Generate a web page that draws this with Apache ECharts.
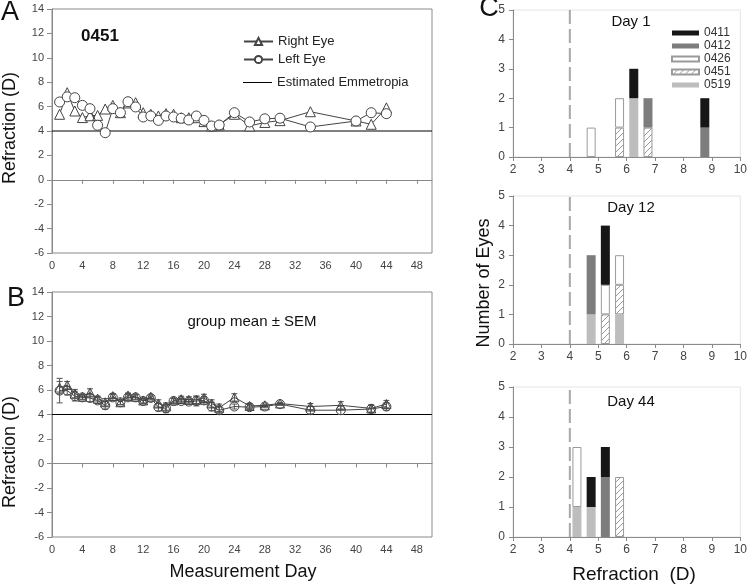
<!DOCTYPE html>
<html><head><meta charset="utf-8">
<script src="https://cdn.jsdelivr.net/npm/echarts@6/dist/echarts.min.js"></script>
<style>html,body{margin:0;padding:0;background:#fff}#c{width:750px;height:586px}</style>
</head><body><div id="c"></div>
<script>
// ---------- Panel A: animal 0451 ----------
const daysA = [1,2,3,4,5,6,7,8,9,10,11,12,13,14,15,16,17,18,19,20,21,22,24,26,28,30,34,40,42,44];
const rightEyeA = [5.37,7.14,5.64,5.1,5.25,5.28,5.8,6.1,5.5,6.3,6.32,5.5,5.37,5.23,5.42,5.37,5.09,5.09,5.09,4.77,4.41,4.5,5.37,4.41,4.7,4.85,5.58,4.82,4.55,5.9];
const leftEyeA  = [6.38,6.8,6.73,6.1,5.83,4.47,3.86,5.83,5.5,6.4,5.97,5.15,5.23,4.87,5.23,5.15,5.04,4.9,5.23,4.87,4.41,4.49,5.5,4.74,5.0,5.05,4.33,4.82,5.5,5.42];
const emmetropia = 4;

// ---------- Panel B: group mean ± SEM ----------
const daysB = [1,2,3,4,5,6,7,8,9,10,11,12,13,14,15,16,17,18,19,20,21,22,24,26,28,30,34,38,42,44];
const rightMeanB = [6.2,6.4,5.7,5.45,5.8,5.3,5.0,5.5,5.0,5.55,5.45,5.15,5.45,4.9,4.65,5.15,5.25,5.2,5.2,5.35,4.9,4.55,5.4,4.7,4.75,4.9,4.65,4.75,4.5,4.85];
const leftMeanB  = [5.95,5.95,5.5,5.4,5.35,5.15,4.75,5.4,5.0,5.4,5.4,5.1,5.35,4.6,4.5,5.1,5.1,5.05,5.1,5.15,4.65,4.35,4.65,4.6,4.65,4.85,4.35,4.35,4.45,4.65];
const rightSemB  = [0.5,0.3,0.35,0.2,0.3,0.2,0.3,0.2,0.2,0.2,0.2,0.2,0.15,0.3,0.3,0.2,0.25,0.25,0.3,0.3,0.3,0.3,0.3,0.2,0.1,0.1,0.25,0.3,0.3,0.3];
const leftSemB   = [1.0,0.35,0.4,0.2,0.3,0.25,0.3,0.25,0.2,0.25,0.2,0.2,0.15,0.3,0.35,0.2,0.2,0.2,0.4,0.3,0.35,0.3,0.2,0.2,0.1,0.1,0.3,0.35,0.3,0.3];

// ---------- Panel C: histograms (0.5 D bins) ----------
const animals = ['0411','0412','0426','0451','0519'];
const binEdgesCenters = ['2.25','2.75','3.25','3.75','4.25','4.75','5.25','5.75','6.25','6.75','7.25','7.75','8.25','8.75','9.25','9.75'];
const binCenters = [4.25,4.75,5.25,5.75,6.25,6.75,8.75];
const day1_0411 = [0,0,0,0,1,0,1];
const day1_0412 = [0,0,0,0,0,1,1];
const day1_0426 = [0,1,0,1,0,0,0];
const day1_0451 = [0,0,0,1,0,1,0];
const day1_0519 = [0,0,0,0,2,0,0];
const day12_0411 = [0,0,2,0,0,0,0];
const day12_0412 = [0,2,0,0,0,0,0];
const day12_0426 = [0,0,1,1,0,0,0];
const day12_0451 = [0,0,1,1,0,0,0];
const day12_0519 = [0,1,0,1,0,0,0];
const day44_0411 = [0,1,1,0,0,0,0];
const day44_0412 = [0,0,2,0,0,0,0];
const day44_0426 = [2,0,0,0,0,0,0];
const day44_0451 = [0,0,0,2,0,0,0];
const day44_0519 = [1,1,0,0,0,0,0];
const dayTitles = ['Day 1','Day 12','Day 44'];
const xTicksA = [0,4,8,12,16,20,24,28,32,36,40,44,48];

const FONT = '"Liberation Sans", Arial, sans-serif';
const AX = '#8a8a8a', LBL = '#444', LINE = '#444';

function hatchCanvas(){
  const c = document.createElement('canvas'); c.width = 6; c.height = 6;
  const g = c.getContext('2d');
  g.fillStyle = '#fff'; g.fillRect(0,0,6,6);
  g.strokeStyle = '#8c8c8c'; g.lineWidth = 0.9;
  g.beginPath();
  g.moveTo(0,6); g.lineTo(6,0);
  g.moveTo(-1,1); g.lineTo(1,-1);
  g.moveTo(5,7); g.lineTo(7,5);
  g.stroke();
  return c;
}
const hatch = {image: hatchCanvas(), repeat: 'repeat'};
const animalStyle = {
  '0411': {color:'#161616', borderWidth:0},
  '0412': {color:'#7d7d7d', borderWidth:0},
  '0426': {color:'#ffffff', borderColor:'#9a9a9a', borderWidth:1},
  '0451': {color:hatch, borderColor:'#9a9a9a', borderWidth:1},
  '0519': {color:'#bdbdbd', borderWidth:0}
};
const dayCounts = [
  {'0411':day1_0411,'0412':day1_0412,'0426':day1_0426,'0451':day1_0451,'0519':day1_0519},
  {'0411':day12_0411,'0412':day12_0412,'0426':day12_0426,'0451':day12_0451,'0519':day12_0519},
  {'0411':day44_0411,'0412':day44_0412,'0426':day44_0426,'0451':day44_0451,'0519':day44_0519}
];

const gridsC = [
  {left:513, top:10, width:232, height:147},
  {left:513, top:196, width:232, height:148},
  {left:513, top:387, width:232, height:150}
];
const grids = [
  {left:52, top:9, width:380, height:244, show:true, borderColor:AX, borderWidth:1},
  {left:52, top:292, width:380, height:245, show:true, borderColor:AX, borderWidth:1}
].concat(gridsC.map(g => Object.assign({show:true, borderColor:'#e4e4e4', borderWidth:1}, g)));

const xAxes = [], yAxes = [];
for (let i = 0; i < 2; i++) {
  xAxes.push({type:'value', gridIndex:i, min:0, max:50, interval:4,
    axisLine:{show:true, lineStyle:{color:AX}},
    axisTick:{show:true, length:4, lineStyle:{color:AX}, customValues:xTicksA},
    axisLabel:{fontSize:11, color:LBL, fontFamily:FONT, margin:7, customValues:xTicksA},
    splitLine:{show:false}});
  yAxes.push({type:'value', gridIndex:i, min:-6, max:14, interval:2,
    axisLine:{show:true, lineStyle:{color:AX}},
    axisTick:{show:true, length:5, lineStyle:{color:AX}},
    axisLabel:{fontSize:11, color:LBL, fontFamily:FONT, margin:8},
    splitLine:{show:false}});
}
for (let i = 0; i < 3; i++) {
  xAxes.push({type:'value', gridIndex:2+i, min:2, max:10, interval:1,
    axisLine:{show:true, lineStyle:{color:AX}},
    axisTick:{show:true, length:4, lineStyle:{color:AX}},
    axisLabel:{fontSize:12, color:LBL, fontFamily:FONT, margin:7},
    splitLine:{show:false}});
  yAxes.push({type:'value', gridIndex:2+i, min:0, max:5, interval:1,
    axisLine:{show:true, lineStyle:{color:AX}},
    axisTick:{show:true, length:4, lineStyle:{color:AX}},
    axisLabel:{fontSize:12, color:LBL, fontFamily:FONT, margin:8},
    splitLine:{show:false}});
}
// hidden bin (category) axes overlaying the C value axes: indices 5,6,7
for (let i = 0; i < 3; i++) {
  xAxes.push({type:'category', gridIndex:2+i, data:binEdgesCenters, boundaryGap:true, show:false});
}

const series = [];
// Panel A
series.push({name:'Estimated Emmetropia', type:'line', xAxisIndex:0, yAxisIndex:0,
  data:[[0,emmetropia],[50,emmetropia]], symbol:'none', lineStyle:{color:'#000', width:1},
  itemStyle:{color:'#000'}, z:1});
series.push({name:'Right Eye', type:'line', xAxisIndex:0, yAxisIndex:0,
  data: daysA.map((d,i)=>[d,rightEyeA[i]]), symbol:'triangle', symbolSize:10,
  lineStyle:{color:LINE, width:1}, itemStyle:{color:'#fff', borderColor:LINE, borderWidth:1}, z:3});
series.push({name:'Left Eye', type:'line', xAxisIndex:0, yAxisIndex:0,
  data: daysA.map((d,i)=>[d,leftEyeA[i]]), symbol:'circle', symbolSize:10,
  lineStyle:{color:LINE, width:1}, itemStyle:{color:'#fff', borderColor:LINE, borderWidth:1}, z:4});
// Panel B
series.push({name:'emmB', type:'line', xAxisIndex:1, yAxisIndex:1,
  data:[[0,emmetropia],[50,emmetropia]], symbol:'none', lineStyle:{color:'#000', width:1}, z:1});
function errRender(params, api){
  const x = api.value(0), lo = api.value(1), hi = api.value(2);
  const p1 = api.coord([x, hi]), p2 = api.coord([x, lo]);
  const w = 3, st = {stroke:'#555', lineWidth:1};
  return {type:'group', children:[
    {type:'line', shape:{x1:p1[0], y1:p1[1], x2:p2[0], y2:p2[1]}, style:st},
    {type:'line', shape:{x1:p1[0]-w, y1:p1[1], x2:p1[0]+w, y2:p1[1]}, style:st},
    {type:'line', shape:{x1:p2[0]-w, y1:p2[1], x2:p2[0]+w, y2:p2[1]}, style:st}
  ]};
}
series.push({name:'errR', type:'custom', xAxisIndex:1, yAxisIndex:1, renderItem:errRender,
  data: daysB.map((d,i)=>[d, rightMeanB[i]-rightSemB[i], rightMeanB[i]+rightSemB[i]]), z:2});
series.push({name:'errL', type:'custom', xAxisIndex:1, yAxisIndex:1, renderItem:errRender,
  data: daysB.map((d,i)=>[d, leftMeanB[i]-leftSemB[i], leftMeanB[i]+leftSemB[i]]), z:2});
series.push({name:'Right Eye mean', type:'line', xAxisIndex:1, yAxisIndex:1,
  data: daysB.map((d,i)=>[d,rightMeanB[i]]), symbol:'triangle', symbolSize:9,
  lineStyle:{color:LINE, width:1}, itemStyle:{color:'rgba(255,255,255,0)', borderColor:LINE, borderWidth:1}, z:3});
series.push({name:'Left Eye mean', type:'line', xAxisIndex:1, yAxisIndex:1,
  data: daysB.map((d,i)=>[d,leftMeanB[i]]), symbol:'circle', symbolSize:9,
  lineStyle:{color:LINE, width:1}, itemStyle:{color:'rgba(255,255,255,0)', borderColor:LINE, borderWidth:1}, z:4});
// Panel C
const stackOrder = ['0519','0451','0426','0412','0411'];
for (let k = 0; k < 3; k++) {
  series.push({name:'emmC'+k, type:'line', xAxisIndex:2+k, yAxisIndex:2+k,
    data:[[emmetropia,0],[emmetropia,5]], symbol:'none', silent:true,
    lineStyle:{type:[14,5], color:'#a8a8a8', width:2}, z:2});
  stackOrder.forEach((a) => {
    const counts = dayCounts[k][a];
    series.push({name:a, type:'bar', xAxisIndex:5+k, yAxisIndex:2+k, stack:'day'+k,
      barWidth:9, itemStyle:Object.assign({}, animalStyle[a]),
      data: binEdgesCenters.map(c => { const idx = binCenters.indexOf(parseFloat(c)); const v = idx >= 0 ? counts[idx] : 0; return v ? v : '-'; }),
      z:3});
  });
}

function txt(x, y, text, size, opts){
  return Object.assign({type:'text', x:x, y:y, silent:true,
    style:Object.assign({text:text, fontSize:size, fontFamily:FONT, fill:'#111', align:'center', verticalAlign:'middle'}, (opts||{}).style||{})},
    (opts||{}).el||{});
}
const graphics = [
  txt(10, 13, 'A', 27),
  txt(16, 299, 'B', 27),
  txt(489, 9, 'C', 27),
  txt(100, 36, '0451', 17, {style:{fontWeight:'bold'}}),
  txt(252, 322, 'group mean ± SEM', 15),
  txt(10, 128, 'Refraction (D)', 18, {el:{rotation:Math.PI/2}}),
  txt(10, 452, 'Refraction (D)', 18, {el:{rotation:Math.PI/2}}),
  txt(243, 572, 'Measurement Day', 18),
  txt(484, 283, 'Number of Eyes', 18, {el:{rotation:Math.PI/2}}),
  txt(634, 575, 'Refraction  (D)', 19),
  txt(631, 22, dayTitles[0], 15),
  txt(631, 208, dayTitles[1], 15),
  txt(631, 402, dayTitles[2], 15)
];

const chart = echarts.init(document.getElementById('c'), null, {renderer:'canvas'});
chart.setOption({
  animation:false,
  backgroundColor:'#fff',
  grid: grids,
  xAxis: xAxes,
  yAxis: yAxes,
  legend: [
    {data:['Right Eye','Left Eye'], orient:'vertical', left:238, top:30, itemWidth:29, itemHeight:9, itemGap:5,
      textStyle:{fontSize:13, color:'#222', fontFamily:FONT}, selectedMode:false},
    {data:['Estimated Emmetropia'], orient:'vertical', left:238, top:71, itemWidth:29, itemHeight:1, icon:'rect',
      textStyle:{fontSize:13, color:'#222', fontFamily:FONT}, selectedMode:false},
    {data:animals, orient:'vertical', left:666, top:22, itemWidth:27, itemHeight:5, itemGap:1, icon:'rect',
      textStyle:{fontSize:12, lineHeight:12, color:'#333', fontFamily:FONT}, selectedMode:false}
  ],
  series: series,
  graphic: graphics
});
</script></body></html>
